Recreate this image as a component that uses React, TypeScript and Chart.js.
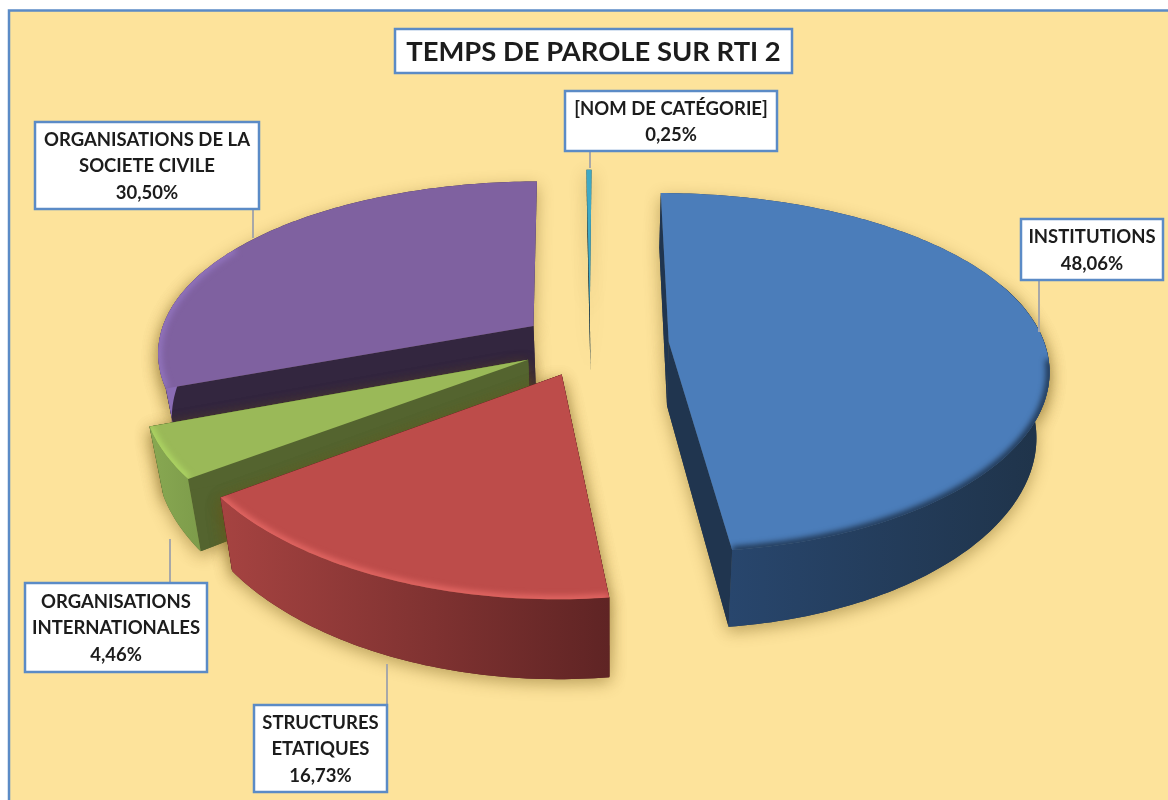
import React, { useEffect, useRef } from "react";
import { Chart, registerables } from "chart.js";

Chart.register(...registerables);

const titleText = "TEMPS DE PAROLE SUR RTI 2";
const categories = ["INSTITUTIONS", "STRUCTURES ETATIQUES", "ORGANISATIONS INTERNATIONALES", "ORGANISATIONS DE LA SOCIETE CIVILE", "[NOM DE CATÉGORIE]"];
const values = [48.06, 16.73, 4.46, 30.5, 0.25];
const explosion = [0.21, 0.185, 0.185, 0.185, 0.2];
const labelLines = [["INSTITUTIONS"], ["STRUCTURES", "ETATIQUES"], ["ORGANISATIONS", "INTERNATIONALES"], ["ORGANISATIONS DE LA", "SOCIETE CIVILE"], ["[NOM DE CATÉGORIE]"]];
const topColors = ["#4b7dba", "#bd4c4a", "#9ab958", "#7f61a0", "#3fa9c4"];
const cutColors = ["#20354f", "#5a2222", "#54642f", "#33263f", "#17394a"];
const wallLeft = ["#28466d", "#a64341", "#88a852", "#8a6cb4", "#2b7f95"];
const wallRight = ["#1f3349", "#5f2424", "#7d9c4a", "#8a6cb4", "#2b7f95"];
const bevelColors = ["#16263a", "#ec6d69", "#b2dc66", "#9678c4", "#70d0e6"];
const rimFrom = [0.1, 0, 0, -0.5, 0];
const labelBoxes = [
  { x: 1021, y: 219, w: 142, h: 61, lx: 1039, ly0: 280, ly1: 332 },
  { x: 254, y: 705, w: 133, h: 87, lx: 387, ly0: 705, ly1: 664 },
  { x: 25, y: 583, w: 182, h: 89, lx: 170, ly0: 583, ly1: 539 },
  { x: 35, y: 122, w: 224, h: 87, lx: 253, ly0: 209, ly1: 238 },
  { x: 565, y: 91, w: 212, h: 60, lx: 590, ly0: 151, ly1: 168 },
];
const titleBox = { x: 395, y: 29, w: 397, h: 44 };

const TILT = 0.465;
const PERSP_Y = 0.17;
const PERSP_X = 0.14;
const HEIGHT = 64;
const LEAN = 0.03;
const VANISH_X = 612;
const BORDER = "#5b8bc6";
const FONT = "Lato, Carlito, sans-serif";

function drawBox(ctx: CanvasRenderingContext2D, b: any) {
  ctx.fillStyle = "#ffffff";
  ctx.fillRect(b.x, b.y, b.w, b.h);
  ctx.strokeStyle = BORDER;
  ctx.lineWidth = 2.5;
  ctx.strokeRect(b.x, b.y, b.w, b.h);
}

function poly(ctx: CanvasRenderingContext2D, pts: number[][]) {
  ctx.beginPath();
  pts.forEach((p, i) => (i ? ctx.lineTo(p[0], p[1]) : ctx.moveTo(p[0], p[1])));
  ctx.closePath();
}

const piePlugin = {
  id: "perspectivePie",
  beforeDraw(chart: any) {
    const { ctx, width, height } = chart;
    ctx.save();
    ctx.fillStyle = "#ffffff";
    ctx.fillRect(0, 0, width, height);
    ctx.fillStyle = "#fde39b";
    ctx.fillRect(8, 10, width - 8, height - 10);
    ctx.strokeStyle = BORDER;
    ctx.lineWidth = 2.5;
    ctx.beginPath();
    ctx.moveTo(9, height);
    ctx.lineTo(9, 10.5);
    ctx.lineTo(width, 10.5);
    ctx.stroke();
    ctx.restore();
  },
  beforeDatasetDraw(chart: any, args: any) {
    const { ctx } = chart;
    const meta = chart.getDatasetMeta(args.index);
    const slices = meta.data.map((el: any, i: number) => {
      const mid = (el.startAngle + el.endAngle) / 2;
      return { el, i, mid };
    });
    slices.sort((a: any, b: any) => Math.sin(a.mid) - Math.sin(b.mid));
    slices.forEach(({ el, i, mid }: any) => {
      const e = explosion[i];
      const R = el.outerRadius;
      const proj = (cu: number, cv: number, bottom: boolean) => {
        const u = cu + e * Math.cos(mid);
        const v = cv + e * Math.sin(mid);
        const wy = 1 - PERSP_Y * v;
        const wx = 1 - PERSP_X * v;
        let sx = el.x + (R * u) / wx;
        let sy = el.y + (R * TILT * v) / wy;
        if (bottom) {
          sy += HEIGHT / wy;
          sx = VANISH_X + (sx - VANISH_X) * (1 - LEAN);
        }
        return [sx, sy];
      };
      const n = Math.max(2, Math.ceil(((el.endAngle - el.startAngle) * 180) / Math.PI));
      const angles: number[] = [];
      for (let k = 0; k <= n; k++) angles.push(el.startAngle + ((el.endAngle - el.startAngle) * k) / n);
      const topArc = angles.map((a) => proj(Math.cos(a), Math.sin(a), false));
      const botArc = angles.map((a) => proj(Math.cos(a), Math.sin(a), true));
      const apexT = proj(0, 0, false);
      const apexB = proj(0, 0, true);
      const topFace = [apexT, ...topArc];
      // the rear of the rim is hidden by the top face
      const frontIdx = angles.map((a, k) => (Math.sin(a) > -0.35 ? k : -1)).filter((k) => k >= 0);
      const frontTop = frontIdx.map((k) => topArc[k]);
      const frontBot = frontIdx.map((k) => botArc[k]);
      const outerWall = frontIdx.length > 1 ? [...frontTop, ...frontBot.slice().reverse()] : [];
      const cutA = [apexT, topArc[0], botArc[0], apexB];
      const cutB = [apexT, topArc[n], botArc[n], apexB];
      const cuts = Math.sin(el.endAngle) < -0.8 ? [cutA] : [cutA, cutB];

      ctx.save();
      // soft contact shadow
      ctx.shadowColor = "rgba(110,85,20,0.45)";
      ctx.shadowBlur = 16;
      ctx.shadowOffsetY = 5;
      ctx.shadowOffsetX = 0;
      ctx.fillStyle = cutColors[i];
      [...cuts, outerWall, topFace].forEach((p) => {
        if (!p.length) return;
        poly(ctx, p);
        ctx.fill();
      });
      ctx.shadowColor = "transparent";
      ctx.shadowBlur = 0;
      ctx.shadowOffsetY = 0;

      ctx.fillStyle = cutColors[i];
      cuts.forEach((p) => {
        poly(ctx, p);
        ctx.fill();
      });

      if (outerWall.length) {
        const xs = outerWall.map((p) => p[0]);
        const g = ctx.createLinearGradient(Math.min(...xs), 0, Math.max(...xs), 0);
        g.addColorStop(0, wallLeft[i]);
        g.addColorStop(1, wallRight[i]);
        ctx.fillStyle = g;
        poly(ctx, outerWall);
        ctx.fill();
      }

      ctx.fillStyle = topColors[i];
      poly(ctx, topFace);
      ctx.fill();

      // bevel along the front of the rim
      const rim = topArc.filter((_, k) => Math.sin(angles[k]) > rimFrom[i]);
      if (rim.length > 1) {
        ctx.save();
        poly(ctx, topFace);
        ctx.clip();
        ctx.filter = "blur(3px)";
        ctx.strokeStyle = bevelColors[i];
        ctx.lineWidth = 6;
        ctx.beginPath();
        rim.forEach((p, k) => (k ? ctx.lineTo(p[0], p[1]) : ctx.moveTo(p[0], p[1])));
        ctx.stroke();
        ctx.restore();
      }
      ctx.restore();
    });
    return false;
  },
  afterDraw(chart: any) {
    const { ctx } = chart;
    ctx.save();
    ctx.textAlign = "center";
    ctx.textBaseline = "middle";
    // leader lines
    labelBoxes.forEach((b) => {
      ctx.strokeStyle = "#a8a8a8";
      ctx.lineWidth = 2;
      ctx.beginPath();
      ctx.moveTo(b.lx, b.ly0);
      ctx.lineTo(b.lx, b.ly1);
      ctx.stroke();
    });
    labelBoxes.forEach((b, i) => {
      drawBox(ctx, b);
      const lines = [...labelLines[i], values[i].toFixed(2).replace(".", ",") + "%"];
      const lh = 26.5;
      ctx.fillStyle = "#1c1c1c";
      ctx.font = `bold 18.5px ${FONT}`;
      const cy = b.y + b.h / 2 - ((lines.length - 1) * lh) / 2 + 1;
      lines.forEach((t, k) => ctx.fillText(t, b.x + b.w / 2, cy + k * lh));
    });
    drawBox(ctx, titleBox);
    ctx.fillStyle = "#1c1c1c";
    ctx.font = `bold 27.4px ${FONT}`;
    ctx.fillText(titleText, titleBox.x + titleBox.w / 2, titleBox.y + titleBox.h / 2 + 1);
    ctx.restore();
  },
};

export default function App() {
  const ref = useRef<HTMLCanvasElement>(null);
  useEffect(() => {
    const chart = new Chart(ref.current as HTMLCanvasElement, {
      type: "pie",
      data: {
        labels: categories,
        datasets: [{ data: values, backgroundColor: topColors, borderWidth: 0 }],
      },
      options: {
        animation: false,
        responsive: false,
        rotation: 0.3,
        radius: 376,
        layout: { padding: { left: 12, bottom: 112 } },
        plugins: { legend: { display: false }, title: { display: false }, tooltip: { enabled: false } },
      } as any,
      plugins: [piePlugin as any],
    });
    return () => chart.destroy();
  }, []);
  return (
    <div style={{ position: "absolute", left: 0, top: 0, width: 1168, height: 800 }}>
      <canvas ref={ref} width={1168} height={800} style={{ display: "block" }} />
    </div>
  );
}
